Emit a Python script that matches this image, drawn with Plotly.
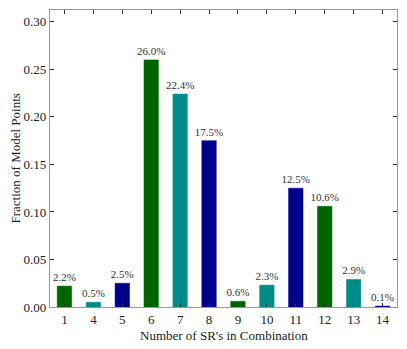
import plotly.graph_objects as go

# number of SRs in combination and fraction of model points
n_srs = ["1", "4", "5", "6", "7", "8", "9", "10", "11", "12", "13", "14"]
fraction = [0.022, 0.005, 0.025, 0.260, 0.224, 0.175, 0.006, 0.023, 0.125, 0.106, 0.029, 0.001]
palette = ["#006400", "#008b8b", "#00008b"]

colors = [palette[i % 3] for i in range(len(n_srs))]
labels = [f"{v * 100:.1f}%" for v in fraction]

fig = go.Figure()
fig.add_trace(go.Bar(
    x=n_srs, y=fraction, width=0.5,
    marker=dict(color=colors, line=dict(color=colors, width=0.5)),
    text=labels, textposition="outside", cliponaxis=False,
    textfont=dict(size=11, color="#333"),
))

axis_style = dict(
    showline=True, linecolor="#999", linewidth=1.2, mirror="ticks",
    ticks="inside", ticklen=4, tickcolor="#333",
    showgrid=False, zeroline=False, automargin=False,
    tickfont=dict(size=13, color="#222"),
)
fig.update_xaxes(**axis_style, type="category", range=[-0.5, 11.5], ticklabelstandoff=0)
fig.update_yaxes(**axis_style, range=[0, 0.3125], tickvals=[0, 0.05, 0.1, 0.15, 0.2, 0.25, 0.3],
                 tickformat=".2f")

# axis titles as annotations so they sit exactly where the reference has them
title_font = dict(size=13, color="#222")
fig.add_annotation(text="Number of SR's in Combination", xref="paper", yref="paper",
                   x=0.5, y=0, yshift=-28, xanchor="center", yanchor="middle",
                   showarrow=False, font=title_font)
fig.add_annotation(text="Fraction of Model Points", xref="paper", yref="paper",
                   x=0, y=0.5, xshift=-35, xanchor="center", yanchor="middle",
                   textangle=-90, showarrow=False, font=title_font)

# page body has an 8px default margin, so the figure is shrunk to fit the window
fig.update_layout(
    width=399, height=341,
    margin=dict(l=42, r=10, t=2, b=42),
    plot_bgcolor="white", paper_bgcolor="white",
    font=dict(family="Liberation Serif, DejaVu Serif, serif"),
    showlegend=False,
    uniformtext=dict(minsize=8, mode="show"),
)

fig.write_html("out.html")
